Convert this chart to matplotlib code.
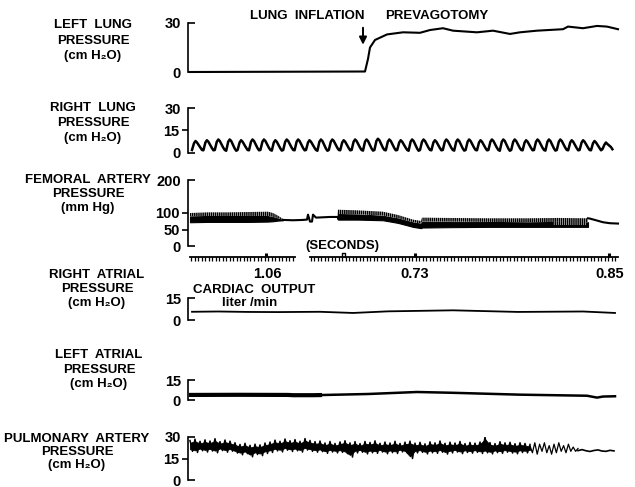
import numpy as np
import matplotlib.pyplot as plt
from matplotlib import transforms

plt.rcParams['font.family'] = ['Liberation Sans', 'DejaVu Sans']
plt.rcParams['font.weight'] = 'bold'
plt.rcParams['hatch.linewidth'] = 1.1

# ---- data (time in arbitrary chart units, values in panel units) ----
# left lung pressure
lung_t = [0.2, 17.7, 18.0, 18.2, 18.7, 19.9, 21.5, 23.2, 24.2, 25.5, 26.5,
          28.9, 30.5, 32.2, 33.2, 34.9, 37.5, 38.0, 39.5, 40.9, 41.9, 43.0]
lung_v = [0, 0.3, 8, 15, 19.6, 23, 24.3, 24, 25.7, 26.8, 25.3,
          24.3, 25.3, 23.3, 24.3, 25.3, 26.2, 27.8, 26.8, 28.2, 27.8, 26.2]

# right lung pressure, one peak / trough per breath
rl_peaks = [8, 8.5, 9, 9, 8.5, 9, 9, 8.5, 9, 9, 8.5, 9, 9, 8.5, 9, 9, 9.5, 9, 8.5,
            9, 9, 8.5, 9, 9, 9, 8.5, 9, 9, 9, 8.5, 9, 9, 9, 8.5, 8.5, 8, 7]
rl_troughs = [2, 1.8, 2, 1.5, 2, 1.8, 2, 1.6, 2, 1.8, 2, 1.5, 2, 1.8, 2, 1.6, 2, 1.8, 2,
              1.5, 2, 1.8, 2, 1.6, 2, 1.8, 2, 1.5, 2, 1.8, 2, 1.6, 2, 1.8, 2, 1.8, 2.5]
rl_start, rl_period = 0.4, 1.14

# femoral artery pressure: envelopes of the pulse band
fa1_t = [0.2, 2.0, 4.0, 6.0, 8.0, 8.5, 9.0, 9.5]
fa1_top = [100, 102, 102, 103, 104, 100, 92, 82]
fa1_mid = [90, 91, 91, 91, 91, 88, 84, 80]
fa1_bot = [72, 73, 73, 73, 74, 75, 77, 78]
fa_flat_t = [9.5, 10.5, 11.5, 11.9, 12.0, 12.2, 12.4, 12.5, 12.8, 13.5, 14.2, 14.9]
fa_flat_v = [79, 78, 79, 80, 95, 74, 74, 95, 86, 87, 88, 88]
fa2_t = [14.9, 15.0, 17.0, 19.5, 21.0, 22.5, 23.3, 23.4, 26.0, 30.0, 34.0, 37.0, 40.0]
fa2_top = [88, 110, 108, 104, 94, 80, 76, 86, 85, 84, 84, 85, 84]
fa2_mid = [86, 97, 96, 92, 84, 72, 68, 74, 74, 73, 72, 73, 72]
fa2_bot = [84, 80, 80, 78, 70, 58, 54, 56, 57, 58, 58, 58, 58]
fa_gap_t = [36.5, 39.8]
fa_gap_top = [72, 72]
fa_gap_bot = [64, 64]
fa_end_t = [40.0, 40.2, 40.8, 41.5, 42.2, 43.0]
fa_end_v = [84, 83, 78, 72, 69, 68]

# seconds marker and cardiac output values
mark_t = [7.8, 22.7, 42.1]
square_t = 15.5
co_labels = ['1.06', '0.73', '0.85']
co_t = [7.9, 22.7, 42.2]

# right atrial pressure
ra_t = [0.4, 3, 6, 9, 13.2, 16.5, 20, 26.5, 33, 39.5, 42.7]
ra_v = [5.6, 5.8, 5.5, 5.4, 5.6, 4.8, 5.9, 6.6, 5.5, 5.8, 4.8]

# left atrial pressure
la_t = [0.3, 5, 10, 10.5, 12.5, 13.2, 18, 22.9, 26.5, 33.2, 39.9, 40.9, 41.5, 42.7]
la_v = [3.8, 3.9, 3.8, 3.6, 3.6, 3.7, 4.5, 6.0, 5.4, 4.0, 3.2, 1.8, 2.6, 2.8]

# pulmonary artery pressure: noisy band envelopes every 0.5 units from 0.2
pa_top = [27.5, 28.5, 27.0, 28.0, 27.2, 28.8, 26.8, 27.9, 27.1, 26.0,
          24.8, 25.6, 24.2, 25.0, 24.5, 25.8, 26.5, 27.8, 27.0, 28.6,
          27.4, 28.2, 27.0, 28.9, 27.6, 26.8, 27.2, 25.8, 26.9, 25.5,
          26.6, 27.4, 25.9, 26.8, 25.4, 26.9, 26.2, 27.3, 25.6, 26.5,
          25.8, 27.0, 25.5, 26.4, 27.1, 25.7, 26.3, 25.2, 26.6, 25.9,
          27.2, 25.6, 26.4, 25.8, 26.9, 25.4, 26.2, 25.7, 26.5, 30.0,
          26.1, 25.4, 26.7, 25.9, 26.3, 25.3, 26.0, 25.5, 24.8]
pa_bot = [20.0, 19.2, 20.4, 19.5, 20.2, 19.0, 20.5, 19.4, 20.1, 18.8,
          17.6, 18.4, 16.2, 17.8, 17.0, 18.5, 19.2, 20.3, 19.6, 20.8,
          19.9, 20.4, 19.5, 20.9, 20.0, 19.4, 19.8, 18.6, 19.5, 18.9,
          19.3, 18.4, 16.0, 18.9, 19.4, 18.2, 19.0, 18.6, 19.5, 18.3,
          19.1, 18.5, 19.6, 18.8, 15.0, 18.9, 19.3, 18.2, 19.0, 18.6,
          19.4, 18.1, 18.9, 19.5, 18.4, 19.2, 18.7, 19.3, 18.5, 19.0,
          18.2, 19.1, 18.6, 19.4, 18.8, 18.3, 19.2, 18.9, 19.5]
pa_spike_v = [24, 19, 26, 18, 25, 20, 26, 19, 24, 18, 25,
              19, 26, 20, 24, 19, 25, 20, 23, 20, 22]
pa_wave_v = [20.5, 21.2, 20.4, 19.9, 20.6, 21.0, 20.2, 20.0, 20.7, 20.3]

W, H = 635, 487
fig = plt.figure(figsize=(W / 100, H / 100), dpi=100)


def px_axes(top, bot):
    return fig.add_axes([188 / W, 1 - bot / H, 434 / W, (bot - top) / H])


def style(ax, ymax, ends, mids):
    ax.set_xlim(0, 43.4)
    ax.set_ylim(0, ymax)
    for s in ['top', 'right', 'bottom']:
        ax.spines[s].set_visible(False)
    ax.spines['left'].set_linewidth(1.2)
    ax.set_xticks([])
    ax.set_yticks(ends)
    ax.set_yticklabels([f'{v:g}' for v in ends])
    ax.tick_params(axis='y', which='major', direction='in', length=5,
                   width=1.2, pad=5, labelsize=10.5)
    if mids:
        ax.set_yticks(mids, minor=True)
        ax.set_yticklabels([f'{v:g}' for v in mids], minor=True)
    ax.tick_params(axis='y', which='minor', direction='out', length=4,
                   width=1.2, pad=2, labelsize=10.5)
    ax.patch.set_alpha(0)


def ftext(x, y, s, **kw):
    fig.text(x / W, 1 - y / H, s, ha='center', va='center',
             fontsize=9.5, fontweight='bold', **kw)


# panel labels
for lines, cx, ys in [
        (['LEFT  LUNG', 'PRESSURE', '(cm H₂O)'], 93, [25, 41, 56]),
        (['RIGHT  LUNG', 'PRESSURE', '(cm H₂O)'], 93, [108, 123, 138]),
        (['FEMORAL  ARTERY', 'PRESSURE', '(mm Hg)'], 88, [180, 194, 208]),
        (['RIGHT  ATRIAL', 'PRESSURE', '(cm H₂O)'], 97, [275, 289, 303]),
        (['LEFT  ATRIAL', 'PRESSURE', '(cm H₂O)'], 99, [355, 370, 384]),
        (['PULMONARY  ARTERY', 'PRESSURE', '(cm H₂O)'], 77, [439, 452, 465])]:
    for s, y in zip(lines, ys):
        ftext(cx, y, s)

ftext(307, 16, 'LUNG  INFLATION')
ftext(437, 16, 'PREVAGOTOMY')
ftext(254, 290, 'CARDIAC  OUTPUT')
ftext(250, 303, 'liter /min', fontstyle='normal')
ftext(342, 246, '(SECONDS)')

lw = 1.5

# left lung
ax1 = px_axes(23, 72)
style(ax1, 30, [0, 30], [])
ax1.plot(lung_t, lung_v, color='k', lw=lw, clip_on=False)
ax1.annotate('', xy=(17.5, 15), xytext=(17.5, 28.8),
             arrowprops=dict(arrowstyle='-|>', color='k', lw=1.4,
                             mutation_scale=11))

# right lung
ax2 = px_axes(108, 153)
style(ax2, 30, [0, 30], [15])
rt, rv = [], []
for k, (p, tr) in enumerate(zip(rl_peaks, rl_troughs)):
    t0 = rl_start + rl_period * k
    rt += [t0, t0 + 0.2, t0 + 0.35, t0 + 0.5, t0 + 0.85, t0 + 1.0]
    rv += [tr, p - 1.5, p, p - 1, tr + 1.5, tr]
ax2.plot(rt, rv, color='k', lw=1.8, clip_on=False)

# femoral artery
ax3 = px_axes(180, 246)
style(ax3, 200, [0, 200], [50, 100])
for t, top, mid, bot in [(fa1_t, fa1_top, fa1_mid, fa1_bot),
                         (fa2_t, fa2_top, fa2_mid, fa2_bot)]:
    ax3.fill_between(t, bot, mid, color='k', lw=0.8)
    ax3.fill_between(t, mid, top, facecolor='white', edgecolor='k',
                     hatch='||||||||', lw=0)
ax3.fill_between(fa_gap_t, fa_gap_bot, fa_gap_top, facecolor='white',
                 edgecolor='k', hatch='||||||||', lw=0)
ax3.plot(fa_flat_t, fa_flat_v, color='k', lw=lw)
ax3.plot(fa_end_t, fa_end_v, color='k', lw=lw)

# seconds marker line
axt = fig.add_axes([188 / W, 1 - 262 / H, 434 / W, 10 / H])
axt.set_xlim(0, 43.4)
axt.set_ylim(0, 1)
axt.axis('off')
for a, b in [(0.2, 10.7), (12.2, 43.0)]:
    axt.plot([a, b], [0.5, 0.5], color='k', lw=1.3)
    ticks = np.arange(a + 0.1, b, 0.35)
    axt.vlines(ticks, 0.15, 0.5, color='k', lw=0.9)
axt.vlines(mark_t, 0.5, 0.9, color='k', lw=2.2)
axt.plot([square_t - 0.15, square_t - 0.15, square_t + 0.15, square_t + 0.15],
         [0.5, 0.95, 0.95, 0.5], color='k', lw=1)
tr = transforms.blended_transform_factory(axt.transData, fig.transFigure)
for s, t in zip(co_labels, co_t):
    axt.text(t, 1 - 274 / H, s, transform=tr, ha='center', va='center',
             fontsize=10.5, fontweight='bold')

# right atrial
ax4 = px_axes(298, 320)
style(ax4, 15, [0, 15], [])
ax4.plot(ra_t, ra_v, color='k', lw=1.3)

# left atrial
ax5 = px_axes(380, 400)
style(ax5, 15, [0, 15], [])
ax5.plot(la_t[:6], la_v[:6], color='k', lw=3.0)
ax5.plot(la_t, la_v, color='k', lw=1.8)

# pulmonary artery
ax6 = px_axes(437, 480)
style(ax6, 30, [0, 30], [15])
pa_t = 0.2 + 0.5 * np.arange(len(pa_top))
core_lo = [b + 1.5 for b in pa_bot]
core_hi = [t - 1.5 for t in pa_top]
ax6.fill_between(pa_t, core_lo, core_hi, color='k', lw=0.6)
zz_t, zz_v = [], []
for t, hi, lo in zip(pa_t, pa_top, pa_bot):
    zz_t += [t, t + 0.25]
    zz_v += [hi, lo]
ax6.plot(zz_t[:-1], zz_v[:-1], color='k', lw=1.1)
sp_t = np.linspace(pa_t[-1], 39.0, len(pa_spike_v))
ax6.plot(sp_t, pa_spike_v, color='k', lw=0.9)
wv_t = np.linspace(39.0, 42.6, len(pa_wave_v))
ax6.plot(wv_t, pa_wave_v, color='k', lw=1.2)

fig.savefig('out.png', dpi=100)
